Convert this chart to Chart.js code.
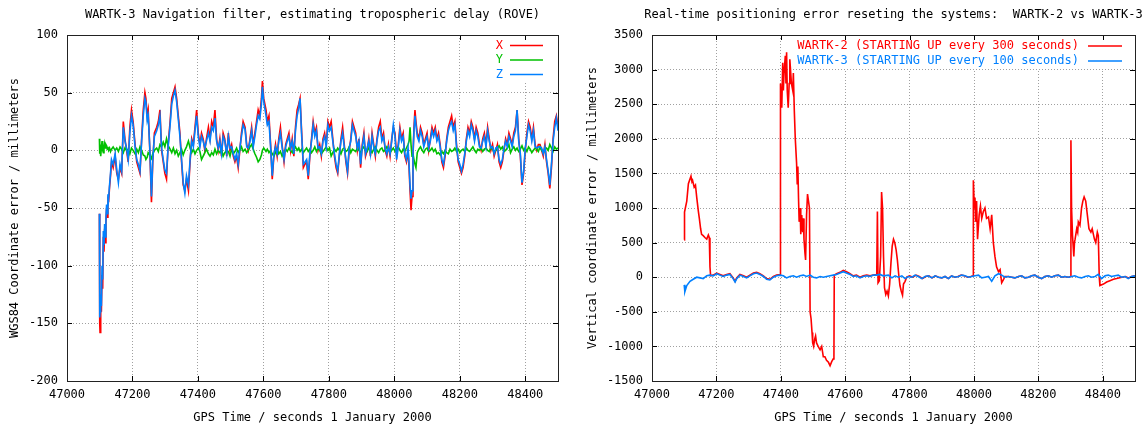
<!DOCTYPE html>
<html>
<head>
<meta charset="utf-8">
<script src="https://cdn.jsdelivr.net/npm/chart.js@4.4.1/dist/chart.umd.min.js"></script>
<style>
  html, body { margin: 0; padding: 0; background: #fff; }
  #wrap { position: relative; width: 1146px; height: 429px; }
  canvas { position: absolute; top: 0; }
</style>
</head>
<body>
<div id="wrap">
  <canvas id="leftChart" width="573" height="429" style="left:0"></canvas>
  <canvas id="rightChart" width="573" height="429" style="left:573px"></canvas>
</div>
<script>
// tick labels
const xTicks = [47000, 47200, 47400, 47600, 47800, 48000, 48200, 48400];
const leftYTicks = [-200, -150, -100, -50, 0, 50, 100];
const rightYTicks = [-1500, -1000, -500, 0, 500, 1000, 1500, 2000, 2500, 3000, 3500];

// left panel: sample times (GPS seconds) shared by X, Y, Z
const leftTimes = [
  47099,47100,47101,47103,47105,47107,47109,47111,47113,47115,
  47117,47119,47121,47123,47125,47127,47130,47133,47136,47141,
  47147,47152,47157,47162,47167,47172,47177,47182,47187,47192,
  47197,47202,47208,47213,47218,47223,47228,47233,47238,47241,
  47245,47248,47253,47258,47262,47267,47274,47279,47284,47289,
  47294,47299,47304,47309,47315,47320,47325,47330,47335,47340,
  47345,47350,47355,47360,47365,47371,47376,47381,47386,47391,
  47396,47401,47406,47411,47416,47421,47426,47432,47437,47442,
  47447,47452,47457,47462,47467,47472,47477,47482,47488,47493,
  47498,47503,47508,47513,47518,47523,47528,47533,47538,47544,
  47549,47554,47559,47564,47569,47574,47579,47584,47589,47594,
  47597,47601,47608,47612,47617,47622,47627,47632,47637,47642,
  47647,47652,47657,47663,47668,47673,47678,47683,47688,47693,
  47698,47703,47708,47712,47717,47722,47727,47732,47737,47742,
  47747,47752,47757,47762,47767,47772,47777,47782,47787,47792,
  47797,47802,47807,47812,47817,47822,47827,47832,47837,47842,
  47847,47852,47857,47862,47867,47872,47877,47882,47887,47892,
  47897,47902,47907,47912,47917,47922,47927,47932,47937,47942,
  47947,47952,47957,47962,47967,47972,47977,47982,47987,47992,
  47997,48002,48007,48012,48017,48022,48027,48032,48037,48042,
  48045,48048,48051,48054,48057,48060,48063,48066,48070,48075,
  48080,48085,48090,48095,48100,48105,48110,48115,48120,48125,
  48130,48135,48140,48145,48150,48155,48160,48165,48170,48175,
  48180,48185,48190,48195,48200,48205,48210,48215,48220,48225,
  48230,48235,48240,48245,48250,48255,48260,48265,48270,48275,
  48280,48285,48290,48295,48300,48305,48310,48315,48320,48325,
  48330,48335,48340,48345,48350,48355,48360,48365,48370,48375,
  48380,48385,48390,48395,48400,48405,48410,48415,48420,48425,
  48430,48435,48440,48445,48450,48455,48460,48465,48470,48475,
  48480,48485,48490,48495,48500
];

const xValues = [
  -55,-150,-158,-130,-140,-108,-120,-75,-88,-68,
  -80,-62,-50,-58,-40,-45,-32,-22,-10,-15,
  -5,-20,-25,-15,-20,25,10,0,-10,20,
  35,25,5,-10,-15,-20,10,35,50,45,
  30,35,0,-45,-10,15,20,25,35,0,
  -10,-20,-25,5,25,45,50,55,45,30,
  15,-10,-30,-35,-25,-35,-10,10,5,20,
  35,15,5,15,10,0,10,20,10,25,
  20,35,10,0,10,-5,15,10,-5,15,
  0,5,-5,-10,-5,-15,0,15,25,20,
  5,0,10,20,5,15,25,35,30,45,
  60,45,35,25,30,5,-25,-5,5,-5,
  10,20,5,-10,5,10,15,0,10,-5,
  20,35,40,45,15,-15,-12,-10,-25,-5,
  10,25,15,20,0,5,-5,10,15,5,
  25,20,25,10,-5,-15,-20,-5,10,20,
  5,-10,-20,0,10,25,20,15,0,10,
  -15,5,15,-5,0,10,-5,15,5,-5,
  10,20,25,10,15,0,-5,5,-5,10,
  20,15,-5,5,20,10,15,-5,-10,0,
  -15,-35,-52,-40,-5,20,35,25,15,10,
  20,15,5,10,15,0,10,20,15,20,
  10,15,5,-10,-15,-5,10,20,25,30,
  20,25,5,-10,-15,-20,-15,-5,10,20,
  15,25,20,10,20,15,5,0,10,15,
  5,20,10,0,5,-5,0,5,-10,-15,
  -10,0,10,5,15,10,5,15,20,35,
  10,-5,-30,-20,0,15,25,20,10,20,
  5,0,5,5,0,-5,5,-10,-20,-33,
  -15,10,25,30,20
];

const yValues = [
  10,-3,5,-5,2,8,0,-2,3,6,
  2,5,4,1,3,0,2,-1,1,3,
  0,2,-1,3,1,-2,2,0,1,-3,
  2,0,-3,1,-2,3,0,-4,-5,-8,
  -6,-2,-4,-7,-3,0,2,-1,5,3,
  7,3,10,4,1,-2,2,-3,0,-5,
  -2,1,-4,0,3,8,2,-2,1,-3,
  0,2,-1,-8,-5,-2,1,-3,-5,-2,
  -4,1,-3,0,-2,1,-5,-2,0,-1,
  -5,1,-3,-1,2,-2,0,3,-1,1,
  -2,0,3,5,1,-3,-6,-10,-8,-4,
  0,2,-1,1,-2,0,-3,-5,-2,1,
  -3,-1,-5,-2,1,-1,2,0,-2,1,
  3,0,2,-1,1,-2,0,2,-1,1,
  -2,0,3,-1,2,0,-3,-1,1,3,
  0,2,-5,-2,1,-1,2,0,-3,1,
  2,-1,0,3,-2,1,0,-1,2,0,
  -2,1,3,0,-1,2,0,-2,1,3,
  0,-2,1,2,-1,0,3,1,-2,0,
  2,-1,1,3,0,-2,1,-1,2,5,
  8,20,5,-5,-3,-8,-12,-15,-2,1,
  3,0,-2,1,2,-1,0,2,-1,1,
  -3,-2,-4,-1,-3,0,-2,-3,1,-1,
  0,2,-1,1,-2,0,1,-1,2,0,
  -1,1,3,0,-2,1,0,2,-1,1,
  2,0,-1,3,1,-2,0,2,4,1,
  3,-1,0,2,5,-2,1,3,0,2,
  -1,1,4,0,2,-1,3,1,-2,0,
  2,1,-1,3,0,-2,1,2,0,5,
  2,-1,3,1,2
];

const zValues = [
  -55,-145,-140,-125,-135,-100,-112,-70,-82,-64,
  -75,-58,-47,-55,-38,-42,-30,-20,-8,-12,
  -3,-17,-28,-12,-18,20,8,2,-8,15,
  30,22,3,-8,-12,-18,8,30,45,42,
  26,30,2,-40,-8,12,17,22,30,2,
  -8,-17,-20,3,22,40,47,52,42,27,
  12,-8,-28,-37,-22,-30,-8,8,3,17,
  30,12,3,12,8,2,8,15,8,20,
  17,28,8,2,8,-3,12,8,-3,12,
  2,3,-3,-8,-3,-12,2,12,22,18,
  3,2,8,17,3,12,22,30,27,40,
  55,42,30,22,25,3,-22,-3,3,-3,
  8,15,3,-8,3,8,12,2,8,-3,
  17,30,37,45,12,-12,-10,-8,-22,-3,
  8,22,12,17,2,3,-3,8,12,3,
  22,17,20,8,-3,-12,-18,-3,8,15,
  3,-8,-18,2,8,22,17,12,2,8,
  -12,3,12,-3,2,8,-3,12,3,-3,
  8,17,20,8,12,2,-3,3,-3,8,
  22,12,-8,3,17,8,12,-3,-8,2,
  -12,-30,-42,-35,-3,17,30,22,12,8,
  17,12,3,8,12,2,8,17,12,17,
  8,12,3,-8,-12,-3,8,17,22,25,
  17,22,3,-8,-12,-18,-12,-3,8,17,
  12,22,17,8,17,12,3,2,8,12,
  3,17,8,2,3,-3,2,3,-8,-12,
  -8,2,8,3,12,8,3,12,17,35,
  8,-3,-28,-18,2,12,22,17,8,17,
  3,2,3,3,2,-3,3,-8,-18,-30,
  -12,8,20,28,17
];

// right panel: WARTK-2 (restart every 300 s)
const wartk2Times = [
  47100,47101,47108,47113,47118,47121,47124,47126,47131,47135,
  47139,47144,47147,47151,47154,47159,47165,47170,47175,47178,
  47180,47182,47190,47201,47211,47221,47232,47242,47252,47258,
  47263,47273,47284,47294,47304,47315,47325,47335,47346,47356,
  47366,47377,47387,47398,47399,47401,47403,47406,47408,47410,
  47414,47416,47418,47420,47423,47426,47428,47433,47437,47439,
  47442,47445,47449,47451,47453,47455,47457,47460,47462,47465,
  47468,47470,47472,47475,47477,47480,47483,47486,47489,47491,
  47494,47497,47499,47502,47505,47508,47511,47516,47522,47527,
  47532,47537,47542,47548,47553,47558,47563,47565,47566,47573,
  47584,47594,47604,47615,47625,47635,47646,47656,47667,47677,
  47687,47698,47700,47702,47706,47710,47713,47716,47719,47722,
  47726,47730,47734,47738,47742,47746,47750,47754,47758,47762,
  47766,47770,47774,47778,47781,47786,47791,47800,47810,47820,
  47830,47840,47850,47860,47870,47880,47890,47900,47910,47920,
  47930,47940,47950,47960,47970,47980,47990,47997,47998,48001,
  48003,48005,48008,48011,48016,48020,48024,48029,48034,48039,
  48045,48050,48055,48060,48065,48070,48076,48081,48086,48091,
  48096,48107,48117,48127,48138,48148,48158,48169,48179,48189,
  48200,48210,48220,48231,48241,48251,48262,48272,48282,48293,
  48300,48301,48303,48306,48310,48312,48314,48319,48322,48324,
  48329,48334,48338,48342,48347,48352,48357,48363,48367,48374,
  48378,48383,48386,48389,48391,48402,48412,48422,48433,48443,
  48459,48470,48480,48490,48500
];
const wartk2Values = [
  540,940,1100,1350,1420,1460,1380,1400,1300,1330,
  1150,950,850,700,620,600,570,550,610,570,
  150,20,30,60,40,20,40,50,-10,-60,
  -10,40,20,0,30,60,70,50,20,-20,
  -30,10,30,40,2800,2500,2450,3100,2700,2950,
  3200,2800,3250,2700,2450,2800,3150,2800,2700,2950,
  2400,2000,1650,1350,1600,1150,800,1000,620,900,
  650,850,550,350,250,900,1200,1100,1000,-500,
  -600,-800,-950,-1000,-900,-850,-950,-1000,-1050,-1000,
  -1150,-1150,-1200,-1230,-1280,-1220,-1180,-1150,30,50,
  70,100,80,50,20,30,0,20,30,20,
  30,40,950,-80,-50,300,1230,1000,300,-150,
  -250,-200,-270,-100,200,450,550,500,400,250,
  50,-120,-200,-260,-100,-60,0,20,0,30,
  10,-20,10,20,-10,20,0,-10,10,-20,
  20,0,10,30,20,0,10,20,1400,1000,
  1150,800,1100,550,900,1030,850,950,1000,850,
  870,700,900,500,300,150,80,110,-80,-40,
  10,10,0,-10,10,20,-10,0,20,30,
  0,-20,10,20,0,20,30,0,10,0,
  10,1980,1000,600,300,500,550,700,650,800,
  750,1000,1100,1160,1100,900,700,650,700,550,
  500,650,600,0,-120,-100,-70,-50,-30,-20,
  0,10,-10,10,20
];

// right panel: WARTK-3 (restart every 100 s)
const wartk3Times = [
  47100,47102,47108,47118,47128,47139,47149,47159,47170,47180,
  47190,47201,47211,47221,47232,47242,47252,47258,47263,47273,
  47284,47294,47304,47315,47325,47335,47346,47356,47366,47377,
  47387,47397,47408,47418,47428,47439,47449,47460,47470,47480,
  47491,47501,47511,47522,47532,47542,47553,47563,47573,47584,
  47594,47604,47615,47625,47635,47646,47656,47667,47677,47687,
  47698,47708,47718,47734,47745,47755,47765,47776,47786,47796,
  47807,47817,47827,47838,47848,47858,47869,47879,47890,47900,
  47910,47921,47931,47941,47952,47962,47972,47983,47993,48003,
  48014,48024,48034,48045,48055,48065,48076,48086,48096,48107,
  48117,48127,48138,48148,48158,48169,48179,48189,48200,48210,
  48220,48231,48241,48251,48262,48272,48282,48293,48303,48313,
  48324,48334,48345,48355,48365,48376,48386,48396,48407,48417,
  48427,48438,48448,48458,48469,48479,48489,48500
];
const wartk3Values = [
  -110,-210,-120,-60,-30,0,-10,-20,20,30,
  20,50,30,10,30,40,-20,-70,-20,30,
  10,-10,20,50,60,40,10,-30,-40,0,
  20,30,20,-10,10,20,0,20,30,10,
  30,0,-10,10,0,10,20,30,40,60,
  80,60,40,10,20,-10,10,20,10,30,
  30,40,20,30,-10,20,0,20,-20,10,
  0,30,10,-20,10,20,-10,20,0,-10,
  10,-20,20,0,10,30,20,0,10,20,
  30,-10,0,10,-60,20,50,30,0,10,
  0,-10,10,20,-10,0,20,30,0,-20,
  10,20,0,20,30,0,10,0,10,20,
  0,-10,10,20,0,10,40,-20,20,30,
  10,20,30,0,10,-20,10,20
];

const FONT = 'DejaVu Sans Mono';
Chart.defaults.font.family = FONT;
Chart.defaults.font.size = 12;
Chart.defaults.color = '#000';

function toPoints(times, values) {
    return times.map((t, i) => ({ x: t, y: values[i] }));
}

// gnuplot look: frame, inner tics, key at top right, titles
const gnuplotDecor = {
    id: 'gnuplotDecor',
    beforeDatasetsDraw(chart, args, opts) {
        const ctx = chart.ctx;
        const k = opts.keyMask;
        ctx.save();
        ctx.fillStyle = '#fff';
        ctx.fillRect(k[0], k[1], k[2], k[3]);
        ctx.restore();
    },
    afterDraw(chart, args, opts) {
        const ctx = chart.ctx;
        const a = chart.chartArea;
        const xs = chart.scales.x, ys = chart.scales.y;
        ctx.save();

        // inner tick marks on all four sides
        ctx.strokeStyle = '#000';
        ctx.lineWidth = 1;
        ctx.beginPath();
        xs.ticks.forEach(t => {
            const px = Math.round(xs.getPixelForValue(t.value)) + 0.5;
            ctx.moveTo(px, a.bottom); ctx.lineTo(px, a.bottom - 5);
            ctx.moveTo(px, a.top); ctx.lineTo(px, a.top + 5);
        });
        ys.ticks.forEach(t => {
            const py = Math.round(ys.getPixelForValue(t.value)) + 0.5;
            ctx.moveTo(a.left, py); ctx.lineTo(a.left + 5, py);
            ctx.moveTo(a.right, py); ctx.lineTo(a.right - 5, py);
        });
        ctx.stroke();

        // frame
        ctx.strokeStyle = '#222';
        ctx.strokeRect(Math.round(a.left) + 0.5, Math.round(a.top) + 0.5,
            Math.round(a.right - a.left), Math.round(a.bottom - a.top));

        ctx.font = '12px ' + FONT;
        ctx.textBaseline = 'middle';

        // key
        ctx.lineWidth = 1.5;
        chart.data.datasets.forEach((ds, i) => {
            const y = opts.keyY + i * opts.keyRow;
            ctx.fillStyle = ds.borderColor;
            ctx.textAlign = 'right';
            ctx.fillText(ds.label, opts.keyTextRight, y);
            ctx.strokeStyle = ds.borderColor;
            ctx.beginPath();
            ctx.moveTo(opts.keyLine[0], y);
            ctx.lineTo(opts.keyLine[1], y);
            ctx.stroke();
        });

        // titles
        const cx = (a.left + a.right) / 2;
        ctx.fillStyle = '#000';
        ctx.textAlign = 'center';
        ctx.fillText(opts.title, cx, 14.5);
        ctx.fillText(opts.xTitle, cx, 418);
        ctx.translate(opts.yTitleX, (a.top + a.bottom) / 2);
        ctx.rotate(-Math.PI / 2);
        ctx.fillText(opts.yTitle, 0, 0);
        ctx.restore();
    }
};

function makeChart(id, cfg) {
    return new Chart(document.getElementById(id), {
        type: 'line',
        data: { datasets: cfg.datasets },
        plugins: [gnuplotDecor],
        options: {
            responsive: false,
            animation: false,
            events: [],
            layout: { padding: { left: 0, right: cfg.padRight, top: 35, bottom: 0 } },
            elements: { point: { radius: 0 }, line: { borderWidth: 1.6, tension: 0 } },
            plugins: {
                legend: { display: false },
                title: { display: false },
                tooltip: { enabled: false },
                gnuplotDecor: cfg.decor
            },
            scales: {
                x: {
                    type: 'linear', min: 47000, max: 48500,
                    afterBuildTicks: s => { s.ticks = xTicks.map(v => ({ value: v })); },
                    afterFit: s => { s.height = 48; },
                    grid: { color: '#a0a0a0', drawTicks: false },
                    border: { display: false, dash: [1, 2] },
                    ticks: { padding: 7, autoSkip: false, maxRotation: 0, callback: v => String(v) }
                },
                y: {
                    type: 'linear', min: cfg.yTicks[0], max: cfg.yTicks[cfg.yTicks.length - 1],
                    afterBuildTicks: s => { s.ticks = cfg.yTicks.map(v => ({ value: v })); },
                    afterFit: s => { s.width = cfg.plotLeft; },
                    grid: { color: '#a0a0a0', drawTicks: false },
                    border: { display: false, dash: [1, 2] },
                    ticks: { padding: 9, autoSkip: false, callback: v => String(v) }
                }
            }
        }
    });
}

makeChart('leftChart', {
    plotLeft: 67,
    padRight: 15,
    yTicks: leftYTicks,
    datasets: [
        { label: 'X', data: toPoints(leftTimes, xValues), borderColor: '#ff0000', order: 3 },
        { label: 'Y', data: toPoints(leftTimes, yValues), borderColor: '#00c000', order: 2 },
        { label: 'Z', data: toPoints(leftTimes, zValues), borderColor: '#0080ff', order: 1 }
    ],
    decor: {
        title: 'WARTK-3 Navigation filter, estimating tropospheric delay (ROVE)',
        xTitle: 'GPS Time / seconds 1 January 2000',
        yTitle: 'WGS84 Coordinate error / millimeters',
        yTitleX: 15,
        keyY: 45.5, keyRow: 14.5, keyTextRight: 503, keyLine: [510, 543],
        keyMask: [488, 36, 62, 46]
    }
});

makeChart('rightChart', {
    plotLeft: 79,
    padRight: 11,
    yTicks: rightYTicks,
    datasets: [
        { label: 'WARTK-2 (STARTING UP every 300 seconds)', data: toPoints(wartk2Times, wartk2Values), borderColor: '#ff0000', order: 2 },
        { label: 'WARTK-3 (STARTING UP every 100 seconds)', data: toPoints(wartk3Times, wartk3Values), borderColor: '#0080ff', order: 1 }
    ],
    decor: {
        title: 'Real-time positioning error reseting the systems:  WARTK-2 vs WARTK-3',
        xTitle: 'GPS Time / seconds 1 January 2000',
        yTitle: 'Vertical coordinate error / millimeters',
        yTitleX: 20,
        keyY: 46, keyRow: 15, keyTextRight: 506, keyLine: [515, 549],
        keyMask: [222, 36, 332, 33]
    }
});
</script>
</body>
</html>
